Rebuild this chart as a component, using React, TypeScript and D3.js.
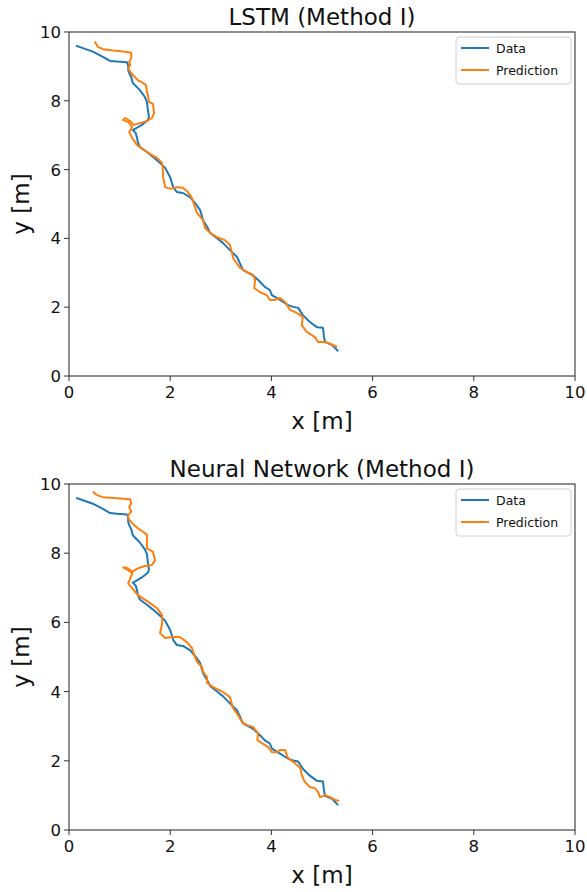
import React from "react";
import * as d3 from "d3";

// Ground-truth trajectory (same in both panels)
const dataX = [0.14, 0.22, 0.47, 0.67, 0.81, 0.95, 1.15, 1.17, 1.17, 1.19, 1.23, 1.26, 1.40, 1.50, 1.54, 1.56, 1.58, 1.56, 1.44, 1.30, 1.26, 1.32, 1.34, 1.36, 1.40, 1.54, 1.66, 1.80, 1.90, 2.00, 2.06, 2.13, 2.25, 2.39, 2.49, 2.59, 2.65, 2.73, 2.79, 2.92, 3.04, 3.18, 3.32, 3.44, 3.62, 3.74, 3.87, 3.97, 4.01, 4.17, 4.33, 4.43, 4.53, 4.62, 4.76, 4.90, 5.02, 5.04, 5.06, 5.20, 5.26, 5.32];
const dataY = [9.60, 9.56, 9.43, 9.28, 9.16, 9.14, 9.12, 9.01, 8.90, 8.81, 8.69, 8.52, 8.31, 8.11, 7.97, 7.73, 7.53, 7.44, 7.30, 7.18, 7.15, 7.06, 6.95, 6.80, 6.66, 6.51, 6.37, 6.19, 6.05, 5.78, 5.49, 5.35, 5.32, 5.20, 5.03, 4.83, 4.53, 4.33, 4.16, 4.01, 3.87, 3.66, 3.46, 3.08, 2.94, 2.79, 2.59, 2.50, 2.35, 2.21, 2.06, 2.01, 1.98, 1.77, 1.57, 1.42, 1.40, 1.13, 0.99, 0.90, 0.81, 0.72];

// LSTM prediction
const lstmX = [0.51, 0.57, 0.67, 0.87, 1.07, 1.23, 1.23, 1.19, 1.21, 1.17, 1.21, 1.26, 1.36, 1.46, 1.52, 1.54, 1.56, 1.58, 1.66, 1.68, 1.64, 1.54, 1.40, 1.28, 1.21, 1.11, 1.07, 1.17, 1.25, 1.19, 1.25, 1.34, 1.54, 1.74, 1.84, 1.86, 1.86, 1.90, 2.00, 2.13, 2.25, 2.35, 2.43, 2.49, 2.53, 2.65, 2.69, 2.79, 2.92, 3.08, 3.18, 3.22, 3.24, 3.38, 3.52, 3.64, 3.68, 3.66, 3.77, 3.91, 3.97, 4.07, 4.17, 4.27, 4.37, 4.51, 4.62, 4.60, 4.70, 4.86, 4.92, 5.02, 5.12, 5.22, 5.30];
const lstmY = [9.72, 9.57, 9.50, 9.46, 9.43, 9.40, 9.24, 9.13, 9.04, 8.95, 8.84, 8.75, 8.60, 8.52, 8.46, 8.26, 8.17, 7.97, 7.91, 7.65, 7.50, 7.41, 7.35, 7.30, 7.41, 7.50, 7.44, 7.38, 7.24, 7.09, 6.92, 6.72, 6.51, 6.34, 6.19, 5.93, 5.78, 5.49, 5.44, 5.49, 5.47, 5.35, 5.17, 4.91, 4.74, 4.53, 4.30, 4.16, 4.04, 3.95, 3.81, 3.60, 3.43, 3.14, 3.02, 2.94, 2.79, 2.56, 2.44, 2.35, 2.21, 2.21, 2.27, 2.15, 1.92, 1.83, 1.72, 1.48, 1.28, 1.13, 0.99, 0.99, 0.96, 0.90, 0.84];

// Neural network prediction
const nnX = [0.47, 0.55, 0.67, 0.95, 1.21, 1.23, 1.19, 1.23, 1.17, 1.17, 1.25, 1.36, 1.50, 1.54, 1.54, 1.54, 1.66, 1.70, 1.64, 1.50, 1.36, 1.25, 1.17, 1.11, 1.07, 1.17, 1.25, 1.21, 1.17, 1.25, 1.36, 1.56, 1.74, 1.84, 1.84, 1.80, 1.90, 2.04, 2.19, 2.33, 2.43, 2.49, 2.53, 2.63, 2.65, 2.73, 2.73, 2.85, 3.04, 3.18, 3.24, 3.34, 3.42, 3.52, 3.64, 3.68, 3.74, 3.72, 3.81, 3.93, 4.01, 4.11, 4.17, 4.27, 4.33, 4.43, 4.57, 4.60, 4.66, 4.76, 4.86, 4.92, 4.96, 5.06, 5.16, 5.26, 5.34];
const nnY = [9.78, 9.68, 9.62, 9.59, 9.56, 9.44, 9.34, 9.20, 9.10, 9.01, 8.86, 8.72, 8.58, 8.53, 8.29, 8.14, 8.04, 7.80, 7.66, 7.63, 7.56, 7.47, 7.56, 7.59, 7.59, 7.51, 7.42, 7.27, 7.13, 6.99, 6.79, 6.60, 6.41, 6.21, 5.97, 5.69, 5.55, 5.58, 5.58, 5.43, 5.26, 5.00, 4.86, 4.71, 4.57, 4.42, 4.25, 4.13, 3.99, 3.84, 3.53, 3.32, 3.12, 3.03, 2.98, 2.89, 2.80, 2.60, 2.51, 2.40, 2.25, 2.25, 2.31, 2.31, 2.08, 1.97, 1.79, 1.59, 1.39, 1.24, 1.21, 1.10, 0.95, 1.01, 0.95, 0.87, 0.84];

const ticks = [0, 2, 4, 6, 8, 10];
const seriesNames = ["Data", "Prediction"];
const colors = ["#1f77b4", "#ff7f0e"];
const titles = ["LSTM (Method I)", "Neural Network (Method I)"];

const FONT = "DejaVu Sans, sans-serif";

type PanelProps = {
  top: number;
  bottom: number;
  title: string;
  predX: number[];
  predY: number[];
};

function Panel({ top, bottom, title, predX, predY }: PanelProps) {
  const left = 69;
  const right = 575;
  const x = d3.scaleLinear().domain([0, 10]).range([left, right]);
  const y = d3.scaleLinear().domain([0, 10]).range([bottom, top]);
  const line = d3
    .line<[number, number]>()
    .x((d) => x(d[0]))
    .y((d) => y(d[1]))
    .curve(d3.curveLinear);
  const dataPts: [number, number][] = dataX.map((v, i) => [v, dataY[i]]);
  const predPts: [number, number][] = predX.map((v, i) => [v, predY[i]]);
  const midY = (top + bottom) / 2;
  const lgX = 456;
  const lgY = top + 5;
  return (
    <g>
      <text x={(left + right) / 2} y={top - 7} textAnchor="middle" fontSize={23} fontFamily={FONT} fill="#111">
        {title}
      </text>
      <path d={line(dataPts) || ""} fill="none" stroke={colors[0]} strokeWidth={2} strokeLinejoin="round" />
      <path d={line(predPts) || ""} fill="none" stroke={colors[1]} strokeWidth={2} strokeLinejoin="round" />
      <rect x={left} y={top} width={right - left} height={bottom - top} fill="none" stroke="#333" strokeWidth={1.1} />
      {ticks.map((t) => (
        <g key={"x" + t}>
          <line x1={x(t)} x2={x(t)} y1={bottom} y2={bottom + 5} stroke="#333" />
          <text x={x(t)} y={bottom + 22} textAnchor="middle" fontSize={16.5} fontFamily={FONT} fill="#111">
            {t}
          </text>
        </g>
      ))}
      {ticks.map((t) => (
        <g key={"y" + t}>
          <line x1={left - 5} x2={left} y1={y(t)} y2={y(t)} stroke="#333" />
          <text x={left - 8} y={y(t) + 6} textAnchor="end" fontSize={16.5} fontFamily={FONT} fill="#111">
            {t}
          </text>
        </g>
      ))}
      <text x={(left + right) / 2} y={bottom + 53} textAnchor="middle" fontSize={23} fontFamily={FONT} fill="#111">
        x [m]
      </text>
      <text
        transform={`translate(29, ${midY}) rotate(-90)`}
        textAnchor="middle"
        fontSize={23}
        fontFamily={FONT}
        fill="#111"
      >
        y [m]
      </text>
      <rect x={lgX} y={lgY} width={115} height={47} rx={3} fill="#fff" fillOpacity={0.8} stroke="#d0d0d0" />
      {seriesNames.map((n, i) => (
        <g key={n}>
          <line x1={lgX + 5} x2={lgX + 33} y1={lgY + 11 + i * 22} y2={lgY + 11 + i * 22} stroke={colors[i]} strokeWidth={2} />
          <text x={lgX + 40} y={lgY + 15.5 + i * 22} fontSize={12.5} fontFamily={FONT} fill="#111">
            {n}
          </text>
        </g>
      ))}
    </g>
  );
}

export default function App() {
  return (
    <svg
      width={587}
      height={892}
      style={{ position: "absolute", left: 0, top: 0, background: "#fff" }}
    >
      <rect x={0} y={0} width={587} height={892} fill="#fff" />
      <Panel top={32} bottom={376} title={titles[0]} predX={lstmX} predY={lstmY} />
      <Panel top={484} bottom={830} title={titles[1]} predX={nnX} predY={nnY} />
    </svg>
  );
}
